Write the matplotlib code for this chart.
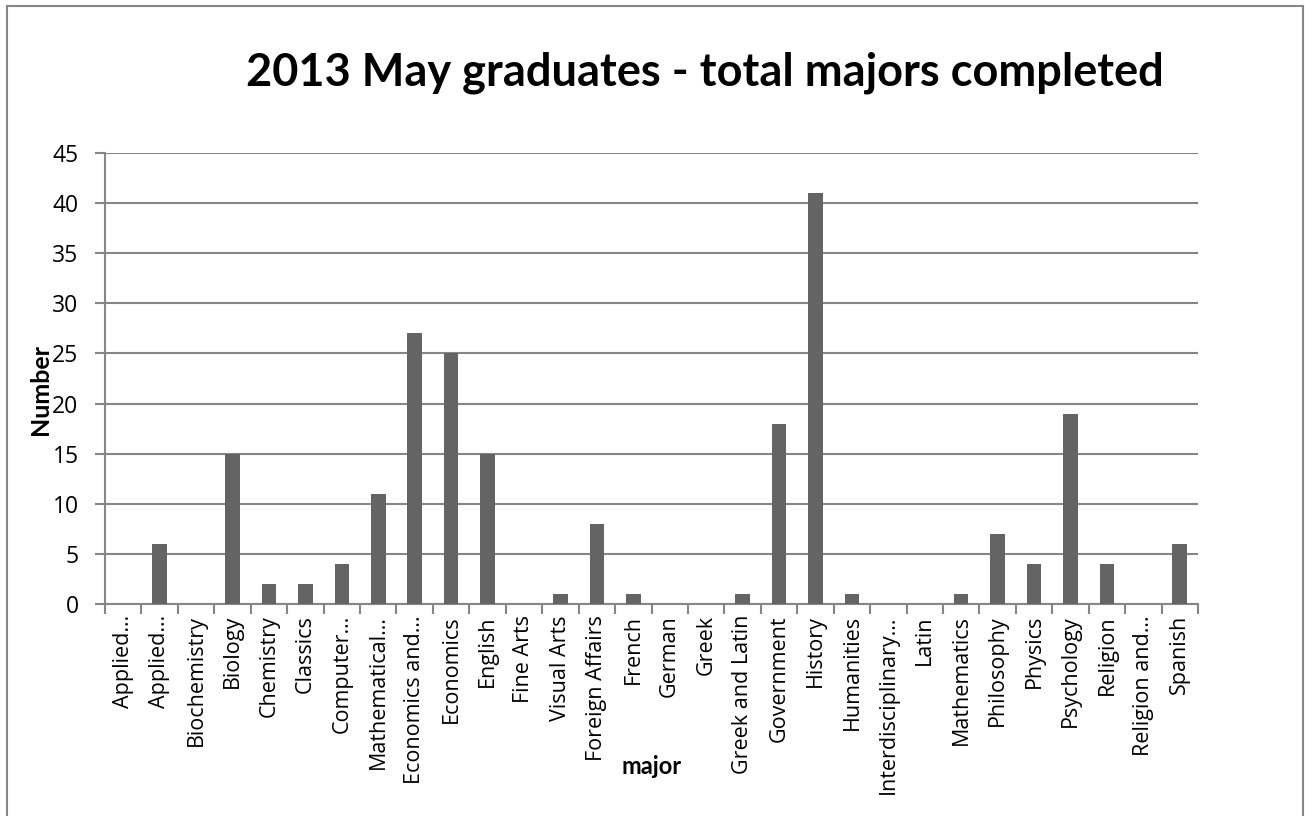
import numpy as np
from matplotlib import pyplot as plt
from matplotlib.patches import Rectangle

majors = ['Applied…', 'Applied…', 'Biochemistry', 'Biology', 'Chemistry', 'Classics',
          'Computer…', 'Mathematical…', 'Economics and…', 'Economics', 'English',
          'Fine Arts', 'Visual Arts', 'Foreign Affairs', 'French', 'German', 'Greek',
          'Greek and Latin', 'Government', 'History', 'Humanities', 'Interdisciplinary…',
          'Latin', 'Mathematics', 'Philosophy', 'Physics', 'Psychology', 'Religion',
          'Religion and…', 'Spanish']
counts = [0, 6, 0, 15, 2, 2, 4, 11, 27, 25, 15, 0, 1, 8, 1, 0, 0, 1, 18, 41,
          1, 0, 0, 1, 7, 4, 19, 4, 0, 6]
yticks = list(range(0, 50, 5))

GRID = '#868686'
BAR = '#646464'

plt.rcParams['font.family'] = ['Open Sans', 'DejaVu Sans']


def main():
    fig = plt.figure(figsize=(13.05, 8.16), dpi=100)
    ax = fig.add_axes([105 / 1305, 1 - 604 / 816, (1198 - 105) / 1305, (604 - 153) / 816])

    x = np.arange(len(majors))
    ax.bar(x, counts, width=0.4, color=BAR, zorder=3)

    ax.set_xlim(-0.5, len(majors) - 0.5)
    ax.set_ylim(0, 45)
    ax.set_yticks(yticks)
    ax.set_yticklabels([str(v) for v in yticks])
    ax.yaxis.grid(True, color=GRID, linewidth=1.5, zorder=0)

    ax.set_xticks(x)
    ax.set_xticklabels(majors, rotation=90, va='top')
    ax.set_xticks(np.arange(-0.5, len(majors)), minor=True)
    ax.tick_params(axis='x', which='major', length=0, pad=8, labelsize=15.5)
    ax.tick_params(axis='x', which='minor', length=7, width=1.5, color=GRID)
    ax.tick_params(axis='y', length=7, width=1.5, color=GRID, pad=12, labelsize=16.5)

    for side in ('top', 'right'):
        ax.spines[side].set_visible(False)
    for side in ('left', 'bottom'):
        ax.spines[side].set_color(GRID)
        ax.spines[side].set_linewidth(1.5)

    fig.text(705 / 1305, 1 - 85 / 816, '2013 May graduates - total majors completed',
             ha='center', va='baseline', fontsize=32.5, fontweight='bold', family='Lato')
    fig.text(41 / 1305, 1 - 389 / 816, 'Number', rotation=90, ha='center', va='center',
             fontsize=18, fontweight='bold', family='Lato')
    fig.text(652 / 1305, 1 - 767 / 816, 'major', ha='center', va='center',
             fontsize=17, fontweight='bold', family='Lato')

    fig.patches.append(Rectangle((7 / 1305, -0.05), 1296 / 1305, 1.05 - 6 / 816,
                                 transform=fig.transFigure, fill=False,
                                 edgecolor=GRID, linewidth=1.5))

    fig.savefig('out.png', dpi=100)


if __name__ == '__main__':
    main()
